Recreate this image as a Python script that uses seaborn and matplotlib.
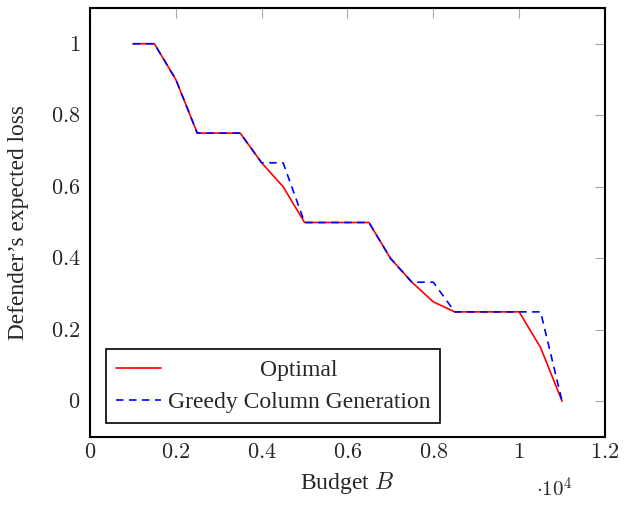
import matplotlib
matplotlib.use("Agg")
import matplotlib.pyplot as plt
import seaborn as sns
import pandas as pd

budget = [1000, 1500, 2000, 2500, 3000, 3500, 4000, 4500, 5000, 5500, 6000,
          6500, 7000, 7500, 8000, 8500, 9000, 9500, 10000, 10500, 11000]
optimal = [1.0, 1.0, 0.9, 0.75, 0.75, 0.75, 0.667, 0.6, 0.5, 0.5, 0.5,
           0.5, 0.4, 0.333, 0.278, 0.25, 0.25, 0.25, 0.25, 0.15, 0.0]
greedy = [1.0, 1.0, 0.9, 0.75, 0.75, 0.75, 0.667, 0.667, 0.5, 0.5, 0.5,
          0.5, 0.4, 0.333, 0.333, 0.25, 0.25, 0.25, 0.25, 0.25, 0.0]
series_names = ["Optimal", "Greedy Column Generation"]
xtick_vals = [0, 2000, 4000, 6000, 8000, 10000, 12000]
xtick_labels = ["0", "0.2", "0.4", "0.6", "0.8", "1", "1.2"]
ytick_vals = [0, 0.2, 0.4, 0.6, 0.8, 1.0]
ytick_labels = ["0", "0.2", "0.4", "0.6", "0.8", "1"]

sns.set_style("white")
plt.rcParams["font.family"] = ["Liberation Serif", "DejaVu Serif"]
plt.rcParams["mathtext.fontset"] = "cm"
plt.rcParams["font.size"] = 17

fig = plt.figure(figsize=(6.24, 5.08), dpi=100)
ax = fig.add_axes([90/624, 1-437/508, (605-90)/624, (437-8)/508])

df_opt = pd.DataFrame({"Budget": budget, "loss": optimal})
df_gr = pd.DataFrame({"Budget": budget, "loss": greedy})
sns.lineplot(data=df_opt, x="Budget", y="loss", ax=ax, color="#ff0000",
             linewidth=1.2, label=series_names[0])
sns.lineplot(data=df_gr, x="Budget", y="loss", ax=ax, color="#0000ff",
             linewidth=1.2, label=series_names[1])
ax.lines[1].set_dashes((4.5, 3.3))

ax.set_xlim(0, 12000)
ax.set_ylim(-0.1, 1.1)
ax.set_xticks(xtick_vals)
ax.set_xticklabels(["$" + t + "$" for t in xtick_labels])
ax.set_yticks(ytick_vals)
ax.set_yticklabels(["$" + t + "$" for t in ytick_labels])
ax.tick_params(axis="both", direction="in", length=7, width=0.8, color="#aaaaaa",
               top=True, right=True, labelsize=16)
ax.tick_params(axis="x", pad=5)
ax.tick_params(axis="y", pad=7)
for s in ax.spines.values():
    s.set_color("black")
    s.set_linewidth(1.5)

ax.set_xlabel("Budget $B$", fontsize=17, va="center")
ax.xaxis.set_label_coords(0.5, (437 - 483) / 429)
ax.set_ylabel("Defender’s expected loss", fontsize=16.8, va="center")
ax.yaxis.set_label_coords((19 - 90) / 515, 0.5)
fig.text(554/624, 1-490/508, r"$\cdot 10^4$", fontsize=15, ha="center", va="center")

leg = ax.legend(loc="lower left", bbox_to_anchor=(0.031, 0.033), borderaxespad=0,
                frameon=True, fancybox=False, edgecolor="black", framealpha=1,
                fontsize=17, handlelength=1.9, handletextpad=0.3, borderpad=0.42,
                labelspacing=0.45)
leg.get_frame().set_linewidth(1.2)
leg.get_lines()[1].set_dashes((4.5, 3.3))

fig.canvas.draw()
r = fig.canvas.get_renderer()
texts = leg.get_texts()
w0 = texts[0].get_window_extent(r).width
w1 = texts[1].get_window_extent(r).width
texts[0].set_x((w1 - w0) / 2)

fig.savefig("out.png", dpi=100)
